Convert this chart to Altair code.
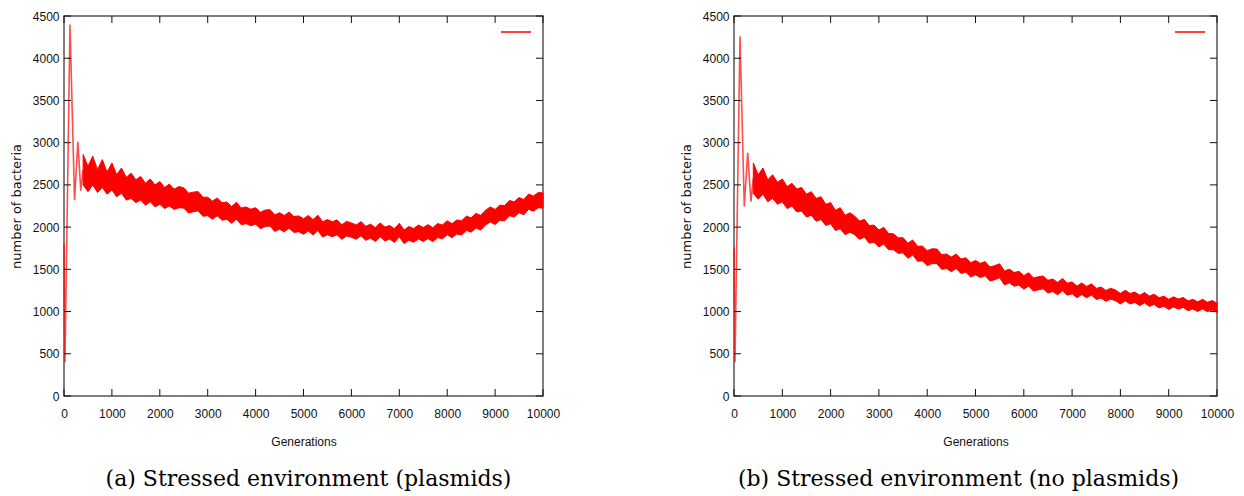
import altair as alt
import pandas as pd

# ---------------- data ----------------
# initial transient (thin line)
a_trans_gen = [0, 20, 125, 220, 290, 350, 400]
a_trans_val = [1800, 400, 4400, 2320, 3010, 2430, 2680]
b_trans_gen = [0, 20, 124, 213, 283, 351, 400]
b_trans_val = [1760, 400, 4260, 2245, 2880, 2300, 2580]

# oscillating band (upper / lower envelope), generations 400..10000 step 100
band_gen = list(range(400, 10001, 100))

a_hi = [2860, 2720, 2840, 2680, 2800, 2650, 2760, 2620, 2700, 2590,
        2640, 2560, 2600, 2520, 2570, 2500, 2540, 2470, 2510, 2450,
        2480, 2465, 2402, 2414, 2421, 2353, 2355, 2308, 2346, 2289,
        2297, 2245, 2293, 2226, 2239, 2212, 2230, 2176, 2202, 2208,
        2144, 2170, 2137, 2179, 2126, 2133, 2100, 2137, 2089, 2141,
        2063, 2090, 2063, 2086, 2029, 2067, 2050, 2025, 2065, 2010,
        2035, 1995, 2050, 2000, 2020, 1980, 2045, 1966, 2007, 1983,
        2024, 1995, 2029, 1993, 2042, 2026, 2075, 2040, 2085, 2075,
        2130, 2110, 2162, 2139, 2201, 2238, 2210, 2260, 2255, 2315,
        2300, 2350, 2326, 2392, 2368, 2409, 2405]
a_lo = [2500, 2420, 2500, 2410, 2470, 2390, 2440, 2360, 2400, 2320,
        2340, 2290, 2320, 2260, 2300, 2240, 2270, 2220, 2250, 2210,
        2230, 2225, 2166, 2182, 2193, 2129, 2135, 2092, 2134, 2081,
        2093, 2045, 2094, 2028, 2042, 2016, 2035, 1981, 2007, 2013,
        1949, 1975, 1944, 1988, 1937, 1946, 1915, 1953, 1906, 1959,
        1882, 1910, 1885, 1910, 1855, 1895, 1880, 1856, 1897, 1843,
        1869, 1830, 1886, 1837, 1858, 1819, 1885, 1805, 1845, 1820,
        1860, 1830, 1864, 1828, 1877, 1861, 1910, 1874, 1918, 1907,
        1961, 1940, 1990, 1965, 2025, 2060, 2030, 2080, 2075, 2135,
        2120, 2170, 2146, 2212, 2188, 2229, 2225]

b_hi = [2760, 2620, 2700, 2560, 2620, 2530, 2570, 2480, 2520, 2450,
        2470, 2390, 2420, 2340, 2360, 2270, 2290, 2200, 2230, 2140,
        2170, 2130, 2071, 2092, 2018, 2024, 1965, 1997, 1924, 1921,
        1873, 1875, 1809, 1848, 1772, 1776, 1720, 1743, 1741, 1674,
        1682, 1645, 1681, 1622, 1638, 1579, 1605, 1571, 1592, 1528,
        1544, 1565, 1479, 1503, 1462, 1476, 1425, 1459, 1398, 1412,
        1421, 1370, 1385, 1345, 1391, 1336, 1351, 1302, 1338, 1298,
        1329, 1275, 1290, 1250, 1275, 1255, 1215, 1252, 1214, 1231,
        1193, 1225, 1183, 1206, 1164, 1182, 1145, 1174, 1148, 1167,
        1126, 1145, 1115, 1145, 1110, 1130, 1100]
b_lo = [2400, 2330, 2390, 2300, 2340, 2270, 2300, 2220, 2250, 2180,
        2190, 2120, 2140, 2070, 2090, 2020, 2040, 1960, 1980, 1910,
        1940, 1910, 1855, 1880, 1810, 1820, 1765, 1801, 1732, 1733,
        1689, 1695, 1630, 1670, 1595, 1600, 1545, 1568, 1567, 1500,
        1509, 1472, 1509, 1450, 1467, 1408, 1435, 1402, 1424, 1361,
        1378, 1400, 1315, 1340, 1300, 1315, 1265, 1301, 1242, 1258,
        1269, 1220, 1237, 1199, 1247, 1194, 1211, 1164, 1201, 1163,
        1195, 1143, 1159, 1121, 1147, 1129, 1090, 1127, 1090, 1107,
        1070, 1103, 1061, 1085, 1043, 1062, 1025, 1055, 1030, 1050,
        1010, 1030, 1001, 1032, 998, 1019, 990]

x_ticks = [0, 1000, 2000, 3000, 4000, 5000, 6000, 7000, 8000, 9000, 10000]
y_ticks = [0, 500, 1000, 1500, 2000, 2500, 3000, 3500, 4000, 4500]

captions = ["(a) Stressed environment (plasmids)",
            "(b) Stressed environment (no plasmids)"]

# ---------------- styling ----------------
RED = "#ff0000"
H = 380
LABEL_FONT = "Liberation Sans"


def panel(tg, tv, hi, lo, caption, W, dx):
    xscale = alt.Scale(domain=[0, 10000], nice=False, zero=False)
    yscale = alt.Scale(domain=[0, 4500], nice=False)
    xaxis = alt.Axis(values=x_ticks, format="d", title="Generations", tickSize=0, domain=False,
                     grid=False, labelFont=LABEL_FONT, labelFontSize=12,
                     labelColor="#111", labelPadding=12, titleFont=LABEL_FONT,
                     titleFontSize=12, titleFontWeight="normal", titleColor="#111",
                     titlePadding=17, labelFlush=False)
    yaxis = alt.Axis(values=y_ticks, format="d", title="number of bacteria", tickSize=0,
                     domain=False, grid=False, labelFont=LABEL_FONT, labelFontSize=12,
                     labelColor="#111", labelPadding=5, titleFont="DejaVu Sans",
                     titleFontSize=13, titleFontWeight="normal", titleColor="#111",
                     titlePadding=9)

    band_df = pd.DataFrame({"g": band_gen, "hi": hi, "lo": lo})
    trans_df = pd.DataFrame({"g": tg, "v": tv})
    xt_df = pd.DataFrame({"g": x_ticks})
    yt_df = pd.DataFrame({"v": y_ticks})

    X = alt.X("g:Q", scale=xscale, axis=xaxis)
    band = alt.Chart(band_df).mark_area(color=RED, stroke=RED, strokeWidth=1,
                                        interpolate="linear").encode(
        x=X,
        y=alt.Y("hi:Q", scale=yscale, axis=yaxis),
        y2="lo:Q",
    )
    trans = alt.Chart(trans_df).mark_line(color=RED, strokeWidth=1.6, opacity=0.7).encode(
        x=X, y=alt.Y("v:Q", scale=yscale, axis=yaxis)
    )
    tick_bottom = alt.Chart(xt_df).mark_rule(color="#111", strokeWidth=1).encode(
        x=X, y=alt.value(H), y2=alt.value(H - 7))
    tick_top = alt.Chart(xt_df).mark_rule(color="#111", strokeWidth=1).encode(
        x=X, y=alt.value(0), y2=alt.value(7))
    tick_left = alt.Chart(yt_df).mark_rule(color="#111", strokeWidth=1).encode(
        y=alt.Y("v:Q", scale=yscale, axis=yaxis), x=alt.value(0), x2=alt.value(7))
    tick_right = alt.Chart(yt_df).mark_rule(color="#111", strokeWidth=1).encode(
        y=alt.Y("v:Q", scale=yscale, axis=yaxis), x=alt.value(W - 7), x2=alt.value(W))
    legend = alt.Chart(xt_df.head(1)).mark_rule(color=RED, strokeWidth=1.5).encode(
        x=alt.value(W - 42), x2=alt.value(W - 12), y=alt.value(16))

    return alt.layer(band, trans, tick_bottom, tick_top, tick_left, tick_right, legend).properties(
        width=W, height=H,
        title=alt.TitleParams(caption, orient="bottom", font="DejaVu Serif", fontSize=22,
                              fontWeight="normal", color="#000", offset=22, dx=dx,
                              anchor="middle"),
    )


left = panel(a_trans_gen, a_trans_val, a_hi, a_lo, captions[0], 479, 5)
right = panel(b_trans_gen, b_trans_val, b_hi, b_lo, captions[1], 483, -17)

chart = alt.hconcat(left, right, spacing=118).properties(
    padding={"left": 9, "top": 9, "right": 5, "bottom": 0},
    background="white",
).configure_view(stroke="#555", strokeWidth=1.5)

chart.save("out.html", embed_options={"renderer": "svg", "actions": False})
